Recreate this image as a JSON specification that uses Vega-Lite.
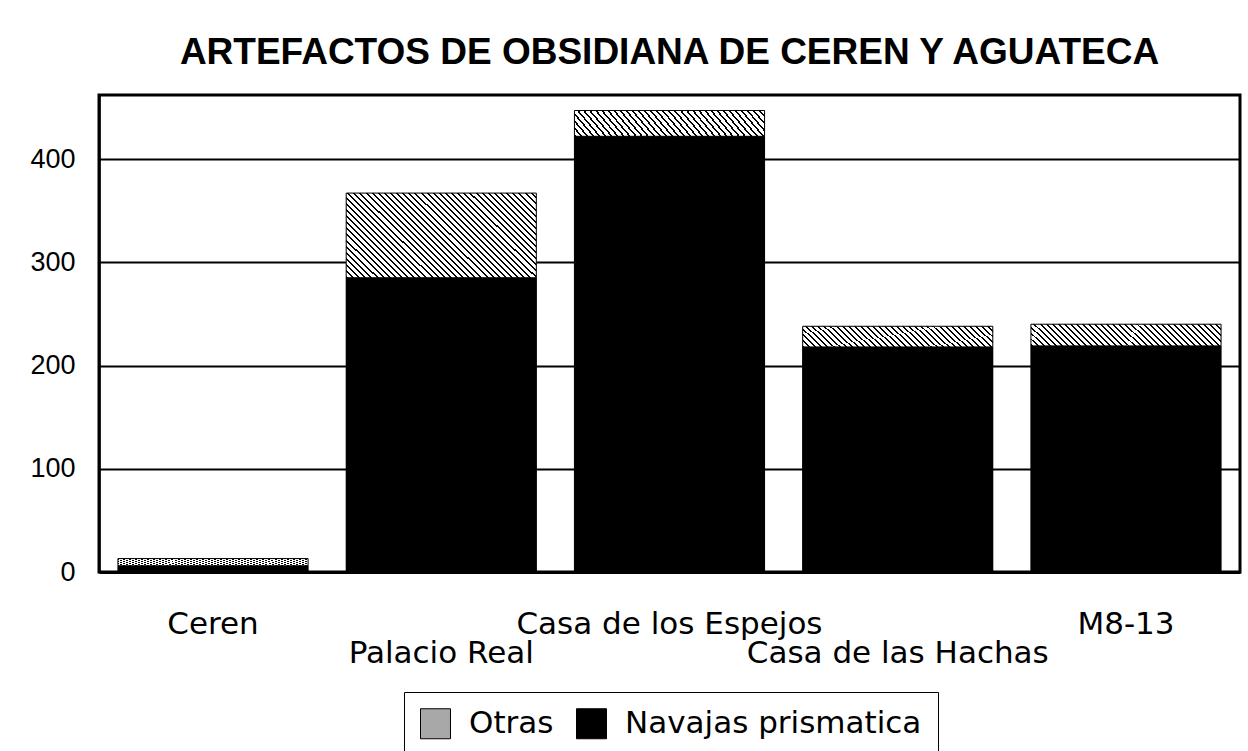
{
  "$schema": "https://vega.github.io/schema/vega-lite/v6.json",
  "autosize": {"type": "none"},
  "width": 1141,
  "height": 477,
  "padding": {"left": 99, "top": 95, "right": 8, "bottom": 179},
  "background": "white",
  "title": {"text": "ARTEFACTOS DE OBSIDIANA DE CEREN Y AGUATECA", "font": "Liberation Sans", "fontSize": 37, "fontWeight": "bold", "color": "black", "anchor": "middle", "baseline": "alphabetic", "offset": -6},
  "config": {"view": {"stroke": "black", "strokeWidth": 3}},
  "data": {"values": [
    {"site": "Ceren", "tipo": "Navajas prismatica", "valor": 6},
    {"site": "Ceren", "tipo": "Otras", "valor": 7},
    {"site": "Palacio Real", "tipo": "Navajas prismatica", "valor": 285},
    {"site": "Palacio Real", "tipo": "Otras", "valor": 82},
    {"site": "Casa de los Espejos", "tipo": "Navajas prismatica", "valor": 422},
    {"site": "Casa de los Espejos", "tipo": "Otras", "valor": 25},
    {"site": "Casa de las Hachas", "tipo": "Navajas prismatica", "valor": 218},
    {"site": "Casa de las Hachas", "tipo": "Otras", "valor": 20},
    {"site": "M8-13", "tipo": "Navajas prismatica", "valor": 219},
    {"site": "M8-13", "tipo": "Otras", "valor": 21}
  ]},
  "encoding": {
    "x": {"field": "site", "type": "nominal", "sort": null,
      "scale": {"paddingInner": 0.167, "paddingOuter": 0.083},
      "axis": {"title": null, "labelAngle": 0, "labelFont": "DejaVu Sans", "labelFontSize": 31, "labelColor": "black", "ticks": false, "domainColor": "black", "domainWidth": 3, "labelPadding": 61, "labelBaseline": "alphabetic", "labelLineHeight": 29, "labelOverlap": false, "labelBound": false, "labelFlush": false, "labelLimit": 0,
        "labelExpr": "(datum.label === 'Palacio Real' || datum.label === 'Casa de las Hachas') ? ['', datum.label] : datum.label"}},
    "y": {"field": "valor", "type": "quantitative", "stack": "zero",
      "scale": {"domain": [0, 462], "nice": false},
      "axis": {"title": null, "values": [0, 100, 200, 300, 400], "labelFont": "Liberation Sans", "labelFontSize": 27, "labelColor": "black", "ticks": false, "labelPadding": 24, "domainColor": "black", "domainWidth": 2.5, "grid": true, "gridColor": "black", "gridWidth": 2}},
    "order": {"field": "tipo", "sort": "ascending"}
  },
  "layer": [
    {
      "mark": {"type": "bar"},
      "encoding": {
        "color": {"field": "tipo", "type": "nominal",
          "scale": {"domain": ["Otras", "Navajas prismatica"], "range": ["#a8a8a8", "#000000"]},
          "legend": {"title": null, "orient": "none", "legendX": 305, "legendY": 597, "direction": "horizontal", "symbolType": "square", "symbolSize": 900, "symbolStrokeColor": "black", "symbolStrokeWidth": 1, "symbolOpacity": 1, "labelFont": "DejaVu Sans", "labelFontSize": 31, "labelColor": "black", "labelOffset": 18, "labelLimit": 0, "columnPadding": 20, "padding": 16, "strokeColor": "black"}
        }
      }
    },
    {
      "mark": {"type": "bar", "stroke": "black", "strokeWidth": 1},
      "encoding": {
        "detail": {"field": "tipo"},
        "fill": {"condition": [
          {"test": "datum.tipo === 'Navajas prismatica'", "value": "black"},
          {"test": "datum.site === 'Palacio Real'", "value": {"gradient": "linear", "x1": 0, "y1": 1, "x2": 1.206, "y2": 0.4605, "stops": [
            {"offset": 0, "color": "#000"}, {"offset": 0.0073, "color": "#000"}, {"offset": 0.0073, "color": "#fff"}, {"offset": 0.0222, "color": "#fff"},
            {"offset": 0.0222, "color": "#000"}, {"offset": 0.0295, "color": "#000"}, {"offset": 0.0295, "color": "#fff"}, {"offset": 0.0444, "color": "#fff"},
            {"offset": 0.0444, "color": "#000"}, {"offset": 0.0517, "color": "#000"}, {"offset": 0.0517, "color": "#fff"}, {"offset": 0.0667, "color": "#fff"},
            {"offset": 0.0667, "color": "#000"}, {"offset": 0.074, "color": "#000"}, {"offset": 0.074, "color": "#fff"}, {"offset": 0.0889, "color": "#fff"},
            {"offset": 0.0889, "color": "#000"}, {"offset": 0.0962, "color": "#000"}, {"offset": 0.0962, "color": "#fff"}, {"offset": 0.1111, "color": "#fff"},
            {"offset": 0.1111, "color": "#000"}, {"offset": 0.1184, "color": "#000"}, {"offset": 0.1184, "color": "#fff"}, {"offset": 0.1333, "color": "#fff"},
            {"offset": 0.1333, "color": "#000"}, {"offset": 0.1406, "color": "#000"}, {"offset": 0.1406, "color": "#fff"}, {"offset": 0.1556, "color": "#fff"},
            {"offset": 0.1556, "color": "#000"}, {"offset": 0.1629, "color": "#000"}, {"offset": 0.1629, "color": "#fff"}, {"offset": 0.1778, "color": "#fff"},
            {"offset": 0.1778, "color": "#000"}, {"offset": 0.1851, "color": "#000"}, {"offset": 0.1851, "color": "#fff"}, {"offset": 0.2, "color": "#fff"},
            {"offset": 0.2, "color": "#000"}, {"offset": 0.2073, "color": "#000"}, {"offset": 0.2073, "color": "#fff"}, {"offset": 0.2222, "color": "#fff"},
            {"offset": 0.2222, "color": "#000"}, {"offset": 0.2295, "color": "#000"}, {"offset": 0.2295, "color": "#fff"}, {"offset": 0.2444, "color": "#fff"},
            {"offset": 0.2444, "color": "#000"}, {"offset": 0.2517, "color": "#000"}, {"offset": 0.2517, "color": "#fff"}, {"offset": 0.2667, "color": "#fff"},
            {"offset": 0.2667, "color": "#000"}, {"offset": 0.274, "color": "#000"}, {"offset": 0.274, "color": "#fff"}, {"offset": 0.2889, "color": "#fff"},
            {"offset": 0.2889, "color": "#000"}, {"offset": 0.2962, "color": "#000"}, {"offset": 0.2962, "color": "#fff"}, {"offset": 0.3111, "color": "#fff"},
            {"offset": 0.3111, "color": "#000"}, {"offset": 0.3184, "color": "#000"}, {"offset": 0.3184, "color": "#fff"}, {"offset": 0.3333, "color": "#fff"},
            {"offset": 0.3333, "color": "#000"}, {"offset": 0.3406, "color": "#000"}, {"offset": 0.3406, "color": "#fff"}, {"offset": 0.3556, "color": "#fff"},
            {"offset": 0.3556, "color": "#000"}, {"offset": 0.3629, "color": "#000"}, {"offset": 0.3629, "color": "#fff"}, {"offset": 0.3778, "color": "#fff"},
            {"offset": 0.3778, "color": "#000"}, {"offset": 0.3851, "color": "#000"}, {"offset": 0.3851, "color": "#fff"}, {"offset": 0.4, "color": "#fff"},
            {"offset": 0.4, "color": "#000"}, {"offset": 0.4073, "color": "#000"}, {"offset": 0.4073, "color": "#fff"}, {"offset": 0.4222, "color": "#fff"},
            {"offset": 0.4222, "color": "#000"}, {"offset": 0.4295, "color": "#000"}, {"offset": 0.4295, "color": "#fff"}, {"offset": 0.4444, "color": "#fff"},
            {"offset": 0.4444, "color": "#000"}, {"offset": 0.4517, "color": "#000"}, {"offset": 0.4517, "color": "#fff"}, {"offset": 0.4667, "color": "#fff"},
            {"offset": 0.4667, "color": "#000"}, {"offset": 0.474, "color": "#000"}, {"offset": 0.474, "color": "#fff"}, {"offset": 0.4889, "color": "#fff"},
            {"offset": 0.4889, "color": "#000"}, {"offset": 0.4962, "color": "#000"}, {"offset": 0.4962, "color": "#fff"}, {"offset": 0.5111, "color": "#fff"},
            {"offset": 0.5111, "color": "#000"}, {"offset": 0.5184, "color": "#000"}, {"offset": 0.5184, "color": "#fff"}, {"offset": 0.5333, "color": "#fff"},
            {"offset": 0.5333, "color": "#000"}, {"offset": 0.5406, "color": "#000"}, {"offset": 0.5406, "color": "#fff"}, {"offset": 0.5556, "color": "#fff"},
            {"offset": 0.5556, "color": "#000"}, {"offset": 0.5629, "color": "#000"}, {"offset": 0.5629, "color": "#fff"}, {"offset": 0.5778, "color": "#fff"},
            {"offset": 0.5778, "color": "#000"}, {"offset": 0.5851, "color": "#000"}, {"offset": 0.5851, "color": "#fff"}, {"offset": 0.6, "color": "#fff"},
            {"offset": 0.6, "color": "#000"}, {"offset": 0.6073, "color": "#000"}, {"offset": 0.6073, "color": "#fff"}, {"offset": 0.6222, "color": "#fff"},
            {"offset": 0.6222, "color": "#000"}, {"offset": 0.6295, "color": "#000"}, {"offset": 0.6295, "color": "#fff"}, {"offset": 0.6444, "color": "#fff"},
            {"offset": 0.6444, "color": "#000"}, {"offset": 0.6517, "color": "#000"}, {"offset": 0.6517, "color": "#fff"}, {"offset": 0.6667, "color": "#fff"},
            {"offset": 0.6667, "color": "#000"}, {"offset": 0.674, "color": "#000"}, {"offset": 0.674, "color": "#fff"}, {"offset": 0.6889, "color": "#fff"},
            {"offset": 0.6889, "color": "#000"}, {"offset": 0.6962, "color": "#000"}, {"offset": 0.6962, "color": "#fff"}, {"offset": 0.7111, "color": "#fff"},
            {"offset": 0.7111, "color": "#000"}, {"offset": 0.7184, "color": "#000"}, {"offset": 0.7184, "color": "#fff"}, {"offset": 0.7333, "color": "#fff"},
            {"offset": 0.7333, "color": "#000"}, {"offset": 0.7406, "color": "#000"}, {"offset": 0.7406, "color": "#fff"}, {"offset": 0.7556, "color": "#fff"},
            {"offset": 0.7556, "color": "#000"}, {"offset": 0.7629, "color": "#000"}, {"offset": 0.7629, "color": "#fff"}, {"offset": 0.7778, "color": "#fff"},
            {"offset": 0.7778, "color": "#000"}, {"offset": 0.7851, "color": "#000"}, {"offset": 0.7851, "color": "#fff"}, {"offset": 0.8, "color": "#fff"},
            {"offset": 0.8, "color": "#000"}, {"offset": 0.8073, "color": "#000"}, {"offset": 0.8073, "color": "#fff"}, {"offset": 0.8222, "color": "#fff"},
            {"offset": 0.8222, "color": "#000"}, {"offset": 0.8295, "color": "#000"}, {"offset": 0.8295, "color": "#fff"}, {"offset": 0.8444, "color": "#fff"},
            {"offset": 0.8444, "color": "#000"}, {"offset": 0.8517, "color": "#000"}, {"offset": 0.8517, "color": "#fff"}, {"offset": 0.8667, "color": "#fff"},
            {"offset": 0.8667, "color": "#000"}, {"offset": 0.874, "color": "#000"}, {"offset": 0.874, "color": "#fff"}, {"offset": 0.8889, "color": "#fff"},
            {"offset": 0.8889, "color": "#000"}, {"offset": 0.8962, "color": "#000"}, {"offset": 0.8962, "color": "#fff"}, {"offset": 0.9111, "color": "#fff"},
            {"offset": 0.9111, "color": "#000"}, {"offset": 0.9184, "color": "#000"}, {"offset": 0.9184, "color": "#fff"}, {"offset": 0.9333, "color": "#fff"},
            {"offset": 0.9333, "color": "#000"}, {"offset": 0.9406, "color": "#000"}, {"offset": 0.9406, "color": "#fff"}, {"offset": 0.9556, "color": "#fff"},
            {"offset": 0.9556, "color": "#000"}, {"offset": 0.9629, "color": "#000"}, {"offset": 0.9629, "color": "#fff"}, {"offset": 0.9778, "color": "#fff"},
            {"offset": 0.9778, "color": "#000"}, {"offset": 0.9851, "color": "#000"}, {"offset": 0.9851, "color": "#fff"}, {"offset": 1, "color": "#fff"}
          ]}}
        ],
        "value": {"gradient": "linear", "x1": 0, "y1": 1, "x2": 1.101, "y2": 0.8725, "stops": [
          {"offset": 0, "color": "#000"}, {"offset": 0.0094, "color": "#000"}, {"offset": 0.0094, "color": "#fff"}, {"offset": 0.0286, "color": "#fff"},
          {"offset": 0.0286, "color": "#000"}, {"offset": 0.038, "color": "#000"}, {"offset": 0.038, "color": "#fff"}, {"offset": 0.0571, "color": "#fff"},
          {"offset": 0.0571, "color": "#000"}, {"offset": 0.0665, "color": "#000"}, {"offset": 0.0665, "color": "#fff"}, {"offset": 0.0857, "color": "#fff"},
          {"offset": 0.0857, "color": "#000"}, {"offset": 0.0951, "color": "#000"}, {"offset": 0.0951, "color": "#fff"}, {"offset": 0.1143, "color": "#fff"},
          {"offset": 0.1143, "color": "#000"}, {"offset": 0.1237, "color": "#000"}, {"offset": 0.1237, "color": "#fff"}, {"offset": 0.1429, "color": "#fff"},
          {"offset": 0.1429, "color": "#000"}, {"offset": 0.1523, "color": "#000"}, {"offset": 0.1523, "color": "#fff"}, {"offset": 0.1714, "color": "#fff"},
          {"offset": 0.1714, "color": "#000"}, {"offset": 0.1808, "color": "#000"}, {"offset": 0.1808, "color": "#fff"}, {"offset": 0.2, "color": "#fff"},
          {"offset": 0.2, "color": "#000"}, {"offset": 0.2094, "color": "#000"}, {"offset": 0.2094, "color": "#fff"}, {"offset": 0.2286, "color": "#fff"},
          {"offset": 0.2286, "color": "#000"}, {"offset": 0.238, "color": "#000"}, {"offset": 0.238, "color": "#fff"}, {"offset": 0.2571, "color": "#fff"},
          {"offset": 0.2571, "color": "#000"}, {"offset": 0.2665, "color": "#000"}, {"offset": 0.2665, "color": "#fff"}, {"offset": 0.2857, "color": "#fff"},
          {"offset": 0.2857, "color": "#000"}, {"offset": 0.2951, "color": "#000"}, {"offset": 0.2951, "color": "#fff"}, {"offset": 0.3143, "color": "#fff"},
          {"offset": 0.3143, "color": "#000"}, {"offset": 0.3237, "color": "#000"}, {"offset": 0.3237, "color": "#fff"}, {"offset": 0.3429, "color": "#fff"},
          {"offset": 0.3429, "color": "#000"}, {"offset": 0.3523, "color": "#000"}, {"offset": 0.3523, "color": "#fff"}, {"offset": 0.3714, "color": "#fff"},
          {"offset": 0.3714, "color": "#000"}, {"offset": 0.3808, "color": "#000"}, {"offset": 0.3808, "color": "#fff"}, {"offset": 0.4, "color": "#fff"},
          {"offset": 0.4, "color": "#000"}, {"offset": 0.4094, "color": "#000"}, {"offset": 0.4094, "color": "#fff"}, {"offset": 0.4286, "color": "#fff"},
          {"offset": 0.4286, "color": "#000"}, {"offset": 0.438, "color": "#000"}, {"offset": 0.438, "color": "#fff"}, {"offset": 0.4571, "color": "#fff"},
          {"offset": 0.4571, "color": "#000"}, {"offset": 0.4665, "color": "#000"}, {"offset": 0.4665, "color": "#fff"}, {"offset": 0.4857, "color": "#fff"},
          {"offset": 0.4857, "color": "#000"}, {"offset": 0.4951, "color": "#000"}, {"offset": 0.4951, "color": "#fff"}, {"offset": 0.5143, "color": "#fff"},
          {"offset": 0.5143, "color": "#000"}, {"offset": 0.5237, "color": "#000"}, {"offset": 0.5237, "color": "#fff"}, {"offset": 0.5429, "color": "#fff"},
          {"offset": 0.5429, "color": "#000"}, {"offset": 0.5523, "color": "#000"}, {"offset": 0.5523, "color": "#fff"}, {"offset": 0.5714, "color": "#fff"},
          {"offset": 0.5714, "color": "#000"}, {"offset": 0.5808, "color": "#000"}, {"offset": 0.5808, "color": "#fff"}, {"offset": 0.6, "color": "#fff"},
          {"offset": 0.6, "color": "#000"}, {"offset": 0.6094, "color": "#000"}, {"offset": 0.6094, "color": "#fff"}, {"offset": 0.6286, "color": "#fff"},
          {"offset": 0.6286, "color": "#000"}, {"offset": 0.638, "color": "#000"}, {"offset": 0.638, "color": "#fff"}, {"offset": 0.6571, "color": "#fff"},
          {"offset": 0.6571, "color": "#000"}, {"offset": 0.6665, "color": "#000"}, {"offset": 0.6665, "color": "#fff"}, {"offset": 0.6857, "color": "#fff"},
          {"offset": 0.6857, "color": "#000"}, {"offset": 0.6951, "color": "#000"}, {"offset": 0.6951, "color": "#fff"}, {"offset": 0.7143, "color": "#fff"},
          {"offset": 0.7143, "color": "#000"}, {"offset": 0.7237, "color": "#000"}, {"offset": 0.7237, "color": "#fff"}, {"offset": 0.7429, "color": "#fff"},
          {"offset": 0.7429, "color": "#000"}, {"offset": 0.7523, "color": "#000"}, {"offset": 0.7523, "color": "#fff"}, {"offset": 0.7714, "color": "#fff"},
          {"offset": 0.7714, "color": "#000"}, {"offset": 0.7808, "color": "#000"}, {"offset": 0.7808, "color": "#fff"}, {"offset": 0.8, "color": "#fff"},
          {"offset": 0.8, "color": "#000"}, {"offset": 0.8094, "color": "#000"}, {"offset": 0.8094, "color": "#fff"}, {"offset": 0.8286, "color": "#fff"},
          {"offset": 0.8286, "color": "#000"}, {"offset": 0.838, "color": "#000"}, {"offset": 0.838, "color": "#fff"}, {"offset": 0.8571, "color": "#fff"},
          {"offset": 0.8571, "color": "#000"}, {"offset": 0.8665, "color": "#000"}, {"offset": 0.8665, "color": "#fff"}, {"offset": 0.8857, "color": "#fff"},
          {"offset": 0.8857, "color": "#000"}, {"offset": 0.8951, "color": "#000"}, {"offset": 0.8951, "color": "#fff"}, {"offset": 0.9143, "color": "#fff"},
          {"offset": 0.9143, "color": "#000"}, {"offset": 0.9237, "color": "#000"}, {"offset": 0.9237, "color": "#fff"}, {"offset": 0.9429, "color": "#fff"},
          {"offset": 0.9429, "color": "#000"}, {"offset": 0.9523, "color": "#000"}, {"offset": 0.9523, "color": "#fff"}, {"offset": 0.9714, "color": "#fff"},
          {"offset": 0.9714, "color": "#000"}, {"offset": 0.9808, "color": "#000"}, {"offset": 0.9808, "color": "#fff"}, {"offset": 1, "color": "#fff"}
        ]}}
      }
    }
  ]
}
